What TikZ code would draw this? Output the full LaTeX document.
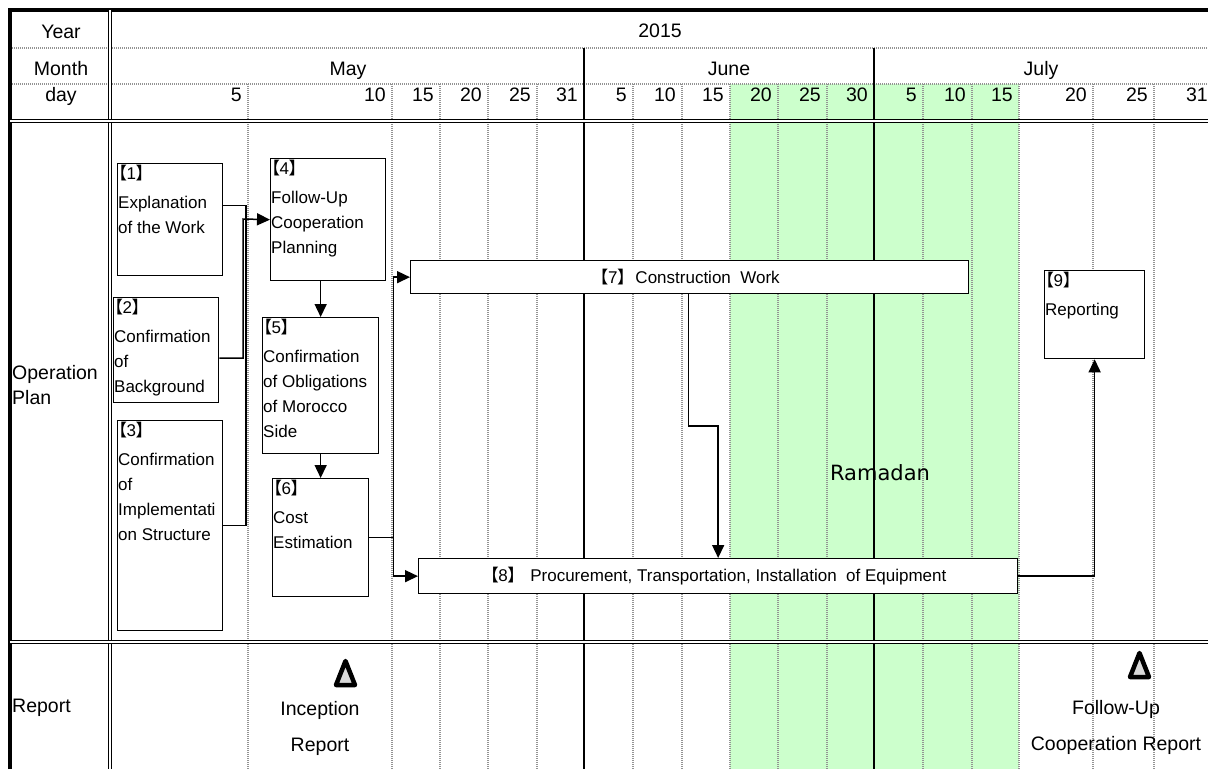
\documentclass[tikz,border=0pt]{standalone}
\usepackage{fontspec}
\setmainfont{Liberation Sans}
\newfontfamily\cjk{Noto Sans CJK JP}[RawFeature=+palt]
\newfontfamily\ramfont{DejaVu Sans}
\usetikzlibrary{arrows.meta}
\definecolor{ramadan}{RGB}{204,255,204}
\newcommand\bk[1]{{\cjk 【}#1{\cjk 】}}

\begin{document}
\begin{tikzpicture}[
    x=1pt, y=-1pt,
    daygrid/.style = {draw=gray!85, line width=1.8pt, dash pattern=on 1pt off 1pt},
    monthline/.style = {line width=2pt},
    frame/.style = {line width=1.3pt, double, double distance=1.6pt},
    head/.style = {font=\fontsize{19.5}{25}\selectfont, inner sep=0pt},
    task/.style = {rectangle, draw, fill=white, line width=1.3pt, anchor=north west, inner sep=0pt},
    tasktext/.style = {anchor=north west, align=left, inner xsep=1pt, inner ysep=2pt, font=\fontsize{17}{25}\selectfont},
    bar/.style = {rectangle, draw, fill=white, line width=1.3pt, anchor=north west, inner sep=0pt, font=\fontsize{17}{20}\selectfont},
    line/.style = {line width=1.5pt},
    arrow/.style = {line width=1.5pt, ->},
    milestone/.style = {draw, fill=gray!30, line width=4.5pt, line join=round},
    >={Triangle[length=13pt,width=12pt]}]

    \useasboundingbox (0,0) rectangle (1208,769);

    % grid
    \fill[ramadan] (730,84) rectangle (1019,769);
    \foreach \gx in {248,392,440,488,537,633,682,730,778,827,923,972,1019,1093,1154}
        \draw[daygrid] (\gx,84) -- (\gx,769);
    \draw[daygrid] (10,48) -- (1208,48);
    \draw[daygrid] (10,84) -- (1208,84);
    \draw[monthline] (584,48) -- (584,769);
    \draw[monthline] (874,48) -- (874,769);
    \draw[line width=3.5pt] (10,769) -- (10,10) -- (1208,10);
    \draw[frame] (110,10) -- (110,769);
    \draw[frame] (10,121) -- (1208,121);
    \draw[frame] (10,642) -- (1208,642);

    % header
    \node[head, anchor=base] (year) at (61,38) {Year};
    \node[head, anchor=base] (month) at (61,75) {Month};
    \node[head, anchor=base] (day) at (61,101) {day};
    \node[head, anchor=base] (y2015) at (660,37) {2015};
    \node[head, anchor=base] (may) at (348,75) {May};
    \node[head, anchor=base] (june) at (729,75) {June};
    \node[head, anchor=base] (july) at (1041,75) {July};
    \foreach \xr/\dd in {248/5,392/10,440/15,488/20,537/25,584/31,633/5,682/10,730/15,778/20,827/25,874/30,923/5,972/10,1019/15,1093/20,1154/25,1214/31}
        \node[head, anchor=base east] (d\xr) at (\xr-6,101) {\dd};

    \node[head, anchor=west, align=left] (opplan) at (12,385) {Operation\\Plan};
    \node[head, anchor=base west] (report) at (12,712) {Report};
    \node[font={\ramfont\fontsize{21}{24}\selectfont}, anchor=base] (ram) at (880,480) {Ramadan};

    % tasks
    \node[task, minimum width=105pt, minimum height=112pt] (t1) at (117,163) {};
    \node[tasktext] (t1x) at (t1.north west) {\bk{1}\\[4pt]Explanation\\of the Work};
    \node[task, minimum width=105pt, minimum height=105pt] (t2) at (113,297) {};
    \node[tasktext] (t2x) at (t2.north west) {\bk{2}\\[4pt]Confirmation\\of\\Background};
    \node[task, minimum width=105pt, minimum height=210pt] (t3) at (117,420) {};
    \node[tasktext] (t3x) at (t3.north west) {\bk{3}\\[4pt]Confirmation\\of\\Implementati\\on Structure};
    \node[task, minimum width=115pt, minimum height=122pt] (t4) at (270,158) {};
    \node[tasktext] (t4x) at (t4.north west) {\bk{4}\\[4pt]Follow-Up\\Cooperation\\Planning};
    \node[task, minimum width=116pt, minimum height=136pt] (t5) at (262,317) {};
    \node[tasktext] (t5x) at (t5.north west) {\bk{5}\\[4pt]Confirmation\\of Obligations\\of Morocco\\Side};
    \node[task, minimum width=96pt, minimum height=118pt] (t6) at (272,478) {};
    \node[tasktext] (t6x) at (t6.north west) {\bk{6}\\[4pt]Cost\\Estimation};
    \node[bar, minimum width=558pt, minimum height=33pt] (t7) at (410,260) {\bk{7}~ Construction~ Work};
    \node[bar, minimum width=599pt, minimum height=35pt] (t8) at (418,558) {\bk{8}\hspace{14pt}Procurement, Transportation, Installation~ of Equipment};
    \node[task, minimum width=100pt, minimum height=88pt] (t9) at (1044,270) {};
    \node[tasktext] (t9x) at (t9.north west) {\bk{9}\\[4pt]Reporting};

    % connectors
    \coordinate (j1) at (246,219);
    \coordinate (j2) at (243,219);
    \draw[line] ([yshift=14pt]t1.east) -| (j1);
    \draw[line] (t3.east) -| (j1);
    \draw[arrow] ([yshift=-8pt]t2.east) -| (j2) -- (t4.west);
    \draw[arrow] (t4.south -| t5.north) -- (t5.north);
    \draw[arrow] (t5.south) -- (t6.north);
    \draw[arrow] (t6.east) -- ++(24,0) |- (t7.west);
    \draw[arrow] (t6.east) -- ++(24,0) |- (t8.west);
    \draw[arrow] ([xshift=-1pt]t7.south) |- ([yshift=132pt]t8.north) -- (t8.north);
    \draw[arrow] (t8.east) -| (t9.south);

    % reports
    \draw[milestone] (336,685) -- (345.5,661) -- (355,685) -- cycle;
    \draw[milestone] (1130,677) -- (1139.5,653) -- (1149,677) -- cycle;
    \node[head, align=center, font=\fontsize{19.5}{36}\selectfont] (rep1) at (320,728) {Inception\\Report};
    \node[head, align=center, font=\fontsize{19.5}{36}\selectfont] (rep2) at (1116,727) {Follow-Up\\Cooperation Report};
\end{tikzpicture}
\end{document}
